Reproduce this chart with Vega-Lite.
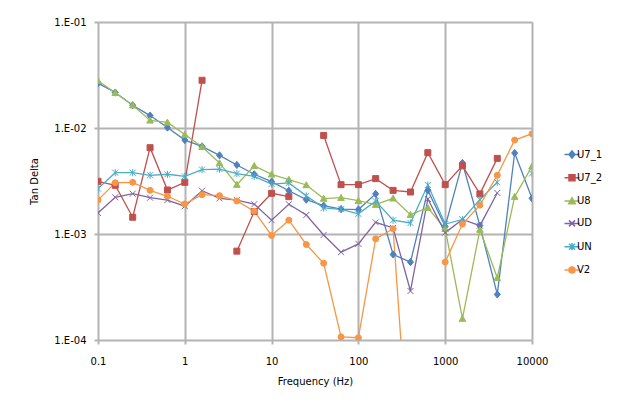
{
  "$schema": "https://vega.github.io/schema/vega-lite/v6.json",
  "width": 434,
  "height": 318,
  "autosize": {"type": "none"},
  "padding": {"left": 98, "top": 22, "right": 87, "bottom": 65},
  "background": "white",
  "config": {
    "view": {"stroke": null},
    "font": "DejaVu Sans",
    "axis": {
      "labelFont": "DejaVu Sans",
      "labelFontSize": 10,
      "labelColor": "#000000",
      "titleFont": "DejaVu Sans",
      "titleFontSize": 10,
      "titleFontWeight": "normal",
      "titleColor": "#000000",
      "grid": true,
      "gridColor": "#b3b3b3",
      "gridWidth": 2,
      "domain": false,
      "tickColor": "#b3b3b3",
      "tickWidth": 2,
      "tickSize": 4
    }
  },
  "data": {
    "values": [
      {"f": 0.1, "U7_1": 0.0265, "U7_2": 0.00314, "U8": 0.0279, "UD": 0.00158, "UN": 0.00268, "V2": 0.00209},
      {"f": 0.158, "U7_1": 0.0216, "U7_2": 0.00288, "U8": 0.0215, "UD": 0.00222, "UN": 0.00379, "V2": 0.00305},
      {"f": 0.251, "U7_1": 0.0164, "U7_2": 0.00144, "U8": 0.0164, "UD": 0.0024, "UN": 0.00379, "V2": 0.00307},
      {"f": 0.398, "U7_1": 0.0131, "U7_2": 0.00652, "U8": 0.0118, "UD": 0.0022, "UN": 0.00358, "V2": 0.00258},
      {"f": 0.631, "U7_1": 0.0101, "U7_2": 0.0026, "U8": 0.0113, "UD": 0.00209, "UN": 0.00366, "V2": 0.00227},
      {"f": 1, "U7_1": 0.00769, "U7_2": 0.00307, "U8": 0.00869, "UD": 0.00183, "UN": 0.0035, "V2": 0.00192},
      {"f": 1.58, "U7_1": 0.00671, "U7_2": 0.0282, "U8": 0.00665, "UD": 0.00256, "UN": 0.00405, "V2": 0.00235},
      {"f": 2.51, "U7_1": 0.00552, "U7_2": null, "U8": 0.00468, "UD": 0.00217, "UN": 0.0041, "V2": 0.0023},
      {"f": 3.98, "U7_1": 0.00448, "U7_2": 0.000689, "U8": 0.00292, "UD": 0.00209, "UN": 0.00371, "V2": 0.00205},
      {"f": 6.31, "U7_1": 0.00366, "U7_2": 0.00163, "U8": 0.0044, "UD": 0.00191, "UN": 0.0035, "V2": 0.00164},
      {"f": 10, "U7_1": 0.00312, "U7_2": 0.00242, "U8": 0.00366, "UD": 0.00135, "UN": 0.00296, "V2": 0.000968},
      {"f": 15.8, "U7_1": 0.00256, "U7_2": 0.00225, "U8": 0.00326, "UD": 0.00191, "UN": 0.00303, "V2": 0.00135},
      {"f": 25.1, "U7_1": 0.00211, "U7_2": null, "U8": 0.0029, "UD": 0.00151, "UN": 0.00229, "V2": 0.000796},
      {"f": 39.8, "U7_1": 0.00185, "U7_2": 0.00851, "U8": 0.00216, "UD": 0.00098, "UN": 0.00176, "V2": 0.00053},
      {"f": 63.1, "U7_1": 0.00172, "U7_2": 0.00292, "U8": 0.0022, "UD": 0.000674, "UN": 0.00171, "V2": 0.000107},
      {"f": 100, "U7_1": 0.0017, "U7_2": 0.00292, "U8": 0.00206, "UD": 0.000807, "UN": 0.00155, "V2": 0.000105},
      {"f": 158, "U7_1": 0.00239, "U7_2": 0.00333, "U8": 0.00189, "UD": 0.00129, "UN": 0.00204, "V2": 0.0009},
      {"f": 251, "U7_1": 0.000641, "U7_2": 0.00258, "U8": 0.00217, "UD": 0.00114, "UN": 0.00135, "V2": 0.00112},
      {"f": 398, "U7_1": 0.000543, "U7_2": 0.00249, "U8": 0.00152, "UD": 0.00029, "UN": 0.00127, "V2": 0.000005},
      {"f": 631, "U7_1": 0.00258, "U7_2": 0.00585, "U8": 0.00177, "UD": 0.00214, "UN": 0.0029, "V2": null},
      {"f": 1000, "U7_1": 0.00118, "U7_2": 0.00292, "U8": 0.00112, "UD": 0.00103, "UN": 0.00124, "V2": 0.000543},
      {"f": 1580, "U7_1": 0.00468, "U7_2": 0.0044, "U8": 0.000159, "UD": 0.00137, "UN": 0.00137, "V2": 0.00124},
      {"f": 2510, "U7_1": 0.0012, "U7_2": 0.00239, "U8": 0.0011, "UD": 0.0012, "UN": 0.00211, "V2": 0.00187},
      {"f": 3980, "U7_1": 0.000269, "U7_2": 0.00517, "U8": 0.000386, "UD": 0.00244, "UN": 0.00308, "V2": 0.00358},
      {"f": 6310, "U7_1": 0.00581, "U7_2": null, "U8": 0.00225, "UD": null, "UN": null, "V2": 0.00769},
      {"f": 10000, "U7_1": 0.00217, "U7_2": null, "U8": 0.00435, "UD": null, "UN": 0.00373, "V2": 0.00883}
    ]
  },
  "transform": [
    {"fold": ["U7_1", "U7_2", "U8", "UD", "UN", "V2"], "as": ["series", "v"]}
  ],
  "encoding": {
    "x": {
      "field": "f",
      "type": "quantitative",
      "scale": {"type": "log", "domain": [0.1, 10000], "nice": false},
      "axis": {
        "title": "Frequency (Hz)",
        "values": [0.1, 1, 10, 100, 1000, 10000],
        "labelExpr": "toString(datum.value)",
        "labelPadding": 12,
        "titlePadding": 10,
        "labelFlush": false
      }
    },
    "y": {
      "field": "v",
      "type": "quantitative",
      "scale": {"type": "log", "domain": [0.0001, 0.1], "nice": false},
      "axis": {
        "title": "Tan Delta",
        "values": [0.0001, 0.001, 0.01, 0.1],
        "labelExpr": "'1.E-0' + round(-log(datum.value)/LN10)",
        "labelPadding": 8,
        "titlePadding": 14,
        "labelFlush": false
      }
    }
  },
  "resolve": {"legend": {"color": "independent", "shape": "independent", "stroke": "independent"}},
  "layer": [
    {
      "mark": {"type": "line", "strokeWidth": 1.3, "clip": true, "invalid": "break-paths-show-domains"},
      "encoding": {
        "color": {
          "field": "series",
          "type": "nominal",
          "scale": {
            "domain": ["U7_1", "U7_2", "U8", "UD", "UN", "V2"],
            "range": ["#4F81BD", "#C0504D", "#9BBB59", "#8064A2", "#4BACC6", "#F79646"]
          },
          "legend": {
            "title": null,
            "orient": "none",
            "legendX": 469,
            "legendY": 127.5,
            "symbolSize": 36,
            "labelOffset": 0,
            "rowPadding": 10.3,
            "labelFont": "DejaVu Sans",
            "labelFontSize": 10,
            "labelColor": "#000000",
            "encode": {
              "symbols": {
                "update": {
                  "shape": {"signal": "datum.value === 'U7_1' ? 'M-2.5,0L2.5,0M0,-1.2L1,0L0,1.2L-1,0Z' : datum.value === 'U7_2' ? 'M-2.5,0L2.5,0M-1,-1L1,-1L1,1L-1,1Z' : datum.value === 'U8' ? 'M-2.5,0L2.5,0M0,-1.1L1.1,0.9L-1.1,0.9Z' : datum.value === 'UD' ? 'M-2.5,0L2.5,0M-1,-1L1,1M-1,1L1,-1' : datum.value === 'UN' ? 'M-2.5,0L2.5,0M-1,-1L1,1M-1,1L1,-1M0,-1.2L0,1.2' : 'M-2.5,0L2.5,0M-1,0A1,1,0,1,0,1,0A1,1,0,1,0,-1,0Z'"},
                  "stroke": {"signal": "scale('color', datum.value)"},
                  "fill": {"signal": "scale('color', datum.value)"},
                  "strokeWidth": {"value": 1.5},
                  "opacity": {"value": 1},
                  "fillOpacity": {"value": 1},
                  "strokeOpacity": {"value": 1}
                }
              }
            }
          }
        }
      }
    },
    {
      "mark": {"type": "point", "filled": true, "opacity": 1, "size": 36, "strokeWidth": 1, "clip": true},
      "encoding": {
        "color": {"field": "series", "type": "nominal", "legend": null},
        "stroke": {
          "field": "series",
          "type": "nominal",
          "legend": null,
          "scale": {
            "domain": ["U7_1", "U7_2", "U8", "UD", "UN", "V2"],
            "range": ["#4F81BD", "#C0504D", "#9BBB59", "#8064A2", "#4BACC6", "#F79646"]
          }
        },
        "shape": {
          "field": "series",
          "type": "nominal",
          "legend": null,
          "scale": {
            "domain": ["U7_1", "U7_2", "U8", "UD", "UN", "V2"],
            "range": ["M0,-1.2L1,0L0,1.2L-1,0Z", "M-1,-1L1,-1L1,1L-1,1Z", "M0,-1.1L1.1,0.9L-1.1,0.9Z", "M-1,-1L1,1M-1,1L1,-1", "M-1,-1L1,1M-1,1L1,-1M0,-1.2L0,1.2", "circle"]
          }
        }
      }
    }
  ]
}
